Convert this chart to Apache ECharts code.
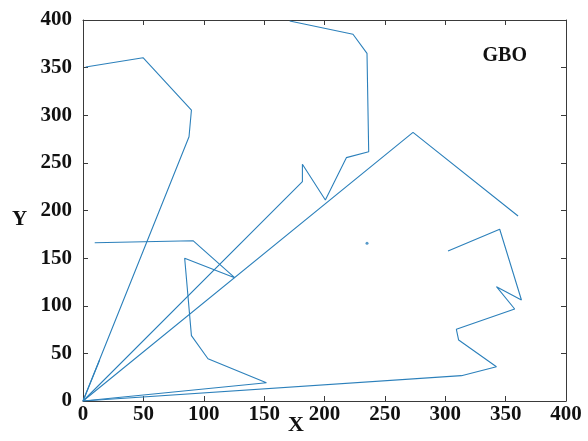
<!DOCTYPE html>
<html>
<head>
<meta charset="utf-8">
<script src="https://cdn.jsdelivr.net/npm/echarts@6/dist/echarts.min.js"></script>
<style>
html,body{margin:0;padding:0;background:#fff;}
#chart{width:588px;height:441px;}
</style>
</head>
<body>
<div id="chart"></div>
<script>
// Tick labels
const xTicks = [0, 50, 100, 150, 200, 250, 300, 350, 400];
const yTicks = [0, 50, 100, 150, 200, 250, 300, 350, 400];
const chartTitle = "GBO";
const xName = "X";
const yName = "Y";

// Routes, [x, y]
const route1 = [[0,0],[87.8,277.5],[89.8,305.5],[49.7,360.4],[2.2,350.6]];
const route2 = [[9.7,166.2],[91.1,168.3],[125.6,129.5],[84.2,149.8],[89.8,68.6],[103.5,44.4],[151.9,19.2],[0,0]];
const route3 = [[0,0],[181.7,230.2],[181.7,248.5],[200.7,211],[218.1,255.5],[236.6,261.7],[235.2,365],[223.6,385],[171.2,399]];
const route4 = [[0,0],[273.3,282],[360.3,194.2]];
const route5 = [[302.3,157.5],[345.1,180.3],[363.1,106],[342.4,120],[357.5,96.6],[309.2,75.3],[311.1,64],[342.4,36],[313.4,26.6],[0,0]];
const route6 = [[0,0],[13.8,43]];
const isolated = [[235.2,165.6]];

const routes = [route1, route2, route3, route4, route5, route6];
const lineColor = '#2c80bb';
const fontFam = '"Liberation Serif","Times New Roman",serif';

const chart = echarts.init(document.getElementById('chart'), null, {renderer:'canvas'});

const axisCommon = {
  type: 'value', min: xTicks[0], max: xTicks[xTicks.length-1], interval: xTicks[1]-xTicks[0],
  splitLine: {show:false},
  axisLine: {show:true, onZero:false, lineStyle:{color:'#3a3a3a', width:1}},
  axisTick: {show:true, inside:true, length:5, lineStyle:{color:'#3a3a3a'}},
};

const option = {
  animation: false,
  backgroundColor: '#fff',
  grid: {left: 83, right: 22, top: 20, bottom: 40, containLabel:false},
  title: {
    text: chartTitle, right: 56, top: 41,
    textStyle: {fontFamily: fontFam, fontWeight: 'bold', fontSize: 20, color:'#111'}
  },
  graphic: [
    {type:'text', left: 288, top: 414, style:{text: xName, font:'bold 22px ' + fontFam, fill:'#111'}},
    {type:'text', left: 12, top: 209, style:{text: yName, font:'bold 21px ' + fontFam, fill:'#111'}}
  ],
  xAxis: [
    Object.assign({}, axisCommon, {
      position:'bottom',
      axisLabel: {show:true, fontFamily: fontFam, fontWeight:'bold', fontSize:21, color:'#111', margin:3,
        formatter: v => xTicks.includes(v) ? String(v) : ''}
    }),
    Object.assign({}, axisCommon, {position:'top', axisLabel:{show:false}})
  ],
  yAxis: [
    Object.assign({}, axisCommon, {
      min: yTicks[0], max: yTicks[yTicks.length-1], interval: yTicks[1]-yTicks[0],
      position:'left',
      axisLabel: {show:true, fontFamily: fontFam, fontWeight:'bold', fontSize:21, color:'#111', margin:11,
        formatter: v => yTicks.includes(v) ? String(v) : ''}
    }),
    Object.assign({}, axisCommon, {
      min: yTicks[0], max: yTicks[yTicks.length-1], interval: yTicks[1]-yTicks[0],
      position:'right', axisLabel:{show:false}
    })
  ],
  series: routes.map(r => ({
    type: 'line', data: r, xAxisIndex:0, yAxisIndex:0,
    symbol: 'none', clip: true,
    lineStyle: {color: lineColor, width: 1.1},
    silent: true
  })).concat([{
    type: 'scatter', data: isolated, symbol:'circle', symbolSize: 3,
    itemStyle: {color: lineColor}, silent: true
  }])
};
chart.setOption(option);
</script>
</body>
</html>
